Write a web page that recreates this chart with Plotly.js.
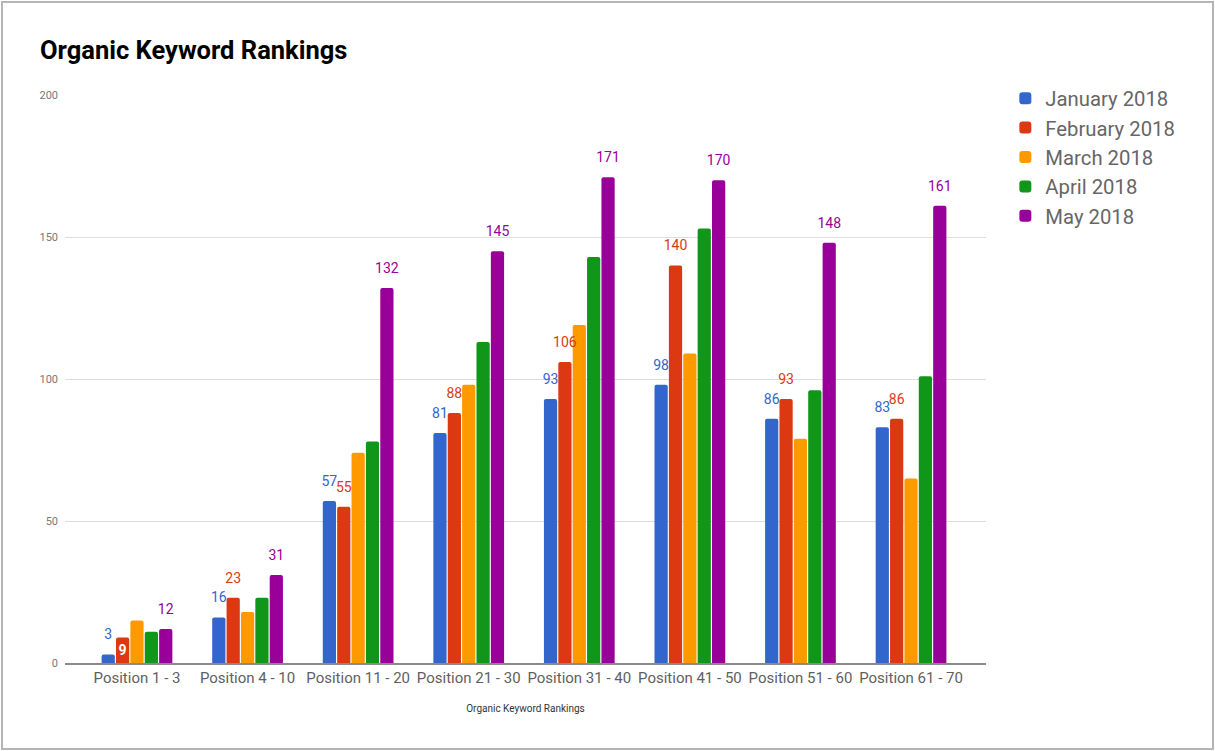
<!DOCTYPE html>
<html>
<head>
<meta charset="utf-8">
<script src="https://cdn.plot.ly/plotly-3.0.1.min.js"></script>
<style>
  html, body { margin: 0; padding: 0; background: #fff; }
  #chart { width: 1215px; height: 751px; position: absolute; left: 0; top: 0; }
  #frame { position: absolute; left: 1px; top: 1px; width: 1209px; height: 745px;
           border: 2px solid #b5b5b5; pointer-events: none; }
</style>
</head>
<body>
<div id="chart"></div>
<div id="frame"></div>
<script>
// ---- data ----
const categories = ["Position 1 - 3", "Position 4 - 10", "Position 11 - 20", "Position 21 - 30",
                    "Position 31 - 40", "Position 41 - 50", "Position 51 - 60", "Position 61 - 70"];
const seriesNames = ["January 2018", "February 2018", "March 2018", "April 2018", "May 2018"];
const january  = [3, 16, 57, 81, 93, 98, 86, 83];
const february = [9, 23, 55, 88, 106, 140, 93, 86];
const march    = [15, 18, 74, 98, 119, 109, 79, 65];
const april    = [11, 23, 78, 113, 143, 153, 96, 101];
const may      = [12, 31, 132, 145, 171, 170, 148, 161];
const yTicks   = [0, 50, 100, 150, 200];
// which series show value labels
const labelled = [true, true, false, false, true];

// ---- styles ----
const colors = ["#3366cc", "#dc3912", "#ff9900", "#109618", "#990099"];
const allSeries = [january, february, march, april, may];
const FONT = "Roboto, Arial, sans-serif";

const traces = [];
allSeries.forEach((vals, i) => {
  // inside label only for a bar too short for an outside label (Feb, first group)
  const insideText = vals.map((v, k) => (i === 1 && k === 0) ? String(v) : "");
  traces.push({
    type: "bar",
    name: seriesNames[i],
    x: categories,
    y: vals,
    marker: { color: colors[i], cornerradius: 2, line: { width: 0 } },
    text: insideText,
    textposition: "inside",
    insidetextanchor: "middle",
    textfont: { family: FONT, size: 14, color: "#ffffff", weight: "bold" },
    textangle: 0,
    constraintext: "none",
    hoverinfo: "x+y+name"
  });
});
allSeries.forEach((vals, i) => {
  const txt = vals.map((v, k) => {
    if (!labelled[i]) return "";
    if (i === 1 && k === 0) return "";
    return String(v);
  });
  traces.push({
    type: "scatter",
    mode: "markers+text",
    orientation: "v",
    x: categories,
    y: vals,
    text: txt,
    textposition: "top center",
    textfont: { family: FONT, size: 14, color: colors[i] },
    marker: { size: 17, color: "rgba(0,0,0,0)" },
    showlegend: false,
    hoverinfo: "skip",
    cliponaxis: false
  });
});

const layout = {
  width: 1215,
  height: 751,
  margin: { l: 65, r: 229, t: 95, b: 88 },
  paper_bgcolor: "#ffffff",
  plot_bgcolor: "#ffffff",
  font: { family: FONT, color: "#666666" },
  title: {
    text: "Organic Keyword Rankings",
    font: { family: FONT, size: 25.5, color: "#000000", weight: "bold" },
    xref: "container", x: 40 / 1215, xanchor: "left",
    yref: "container", y: 1 - 50 / 751, yanchor: "middle"
  },
  barmode: "group",
  bargap: 0.35,
  bargroupgap: 0.08,
  scattermode: "group",
  scattergap: 0.35,
  xaxis: {
    type: "category",
    range: [-0.651, 7.678],
    showgrid: false,
    showline: true,
    linecolor: "#8a8a8a",
    linewidth: 1.5,
    ticks: "",
    tickfont: { family: FONT, size: 15, color: "#5f5f5f" },
    title: {
      text: "Organic Keyword Rankings",
      font: { family: FONT, size: 10, color: "#333333" },
      standoff: 19
    },
    fixedrange: true
  },
  yaxis: {
    range: [0, 200],
    tickvals: yTicks,
    ticktext: yTicks.map(String),
    showgrid: true,
    gridcolor: "#dddddd",
    gridwidth: 1,
    zeroline: false,
    showline: false,
    ticks: "",
    ticklabelstandoff: 6,
    tickfont: { family: FONT, size: 11, color: "#777777" },
    fixedrange: true
  },
  legend: {
    x: 1.021, xanchor: "left",
    y: 1.029, yanchor: "top",
    font: { family: FONT, size: 20.3, color: "#666666" },
    itemwidth: 30,
    tracegroupgap: 0,
    bgcolor: "rgba(0,0,0,0)"
  },
  showlegend: true
};

Plotly.newPlot("chart", traces, layout, { displayModeBar: false, staticPlot: false });
</script>
</body>
</html>
